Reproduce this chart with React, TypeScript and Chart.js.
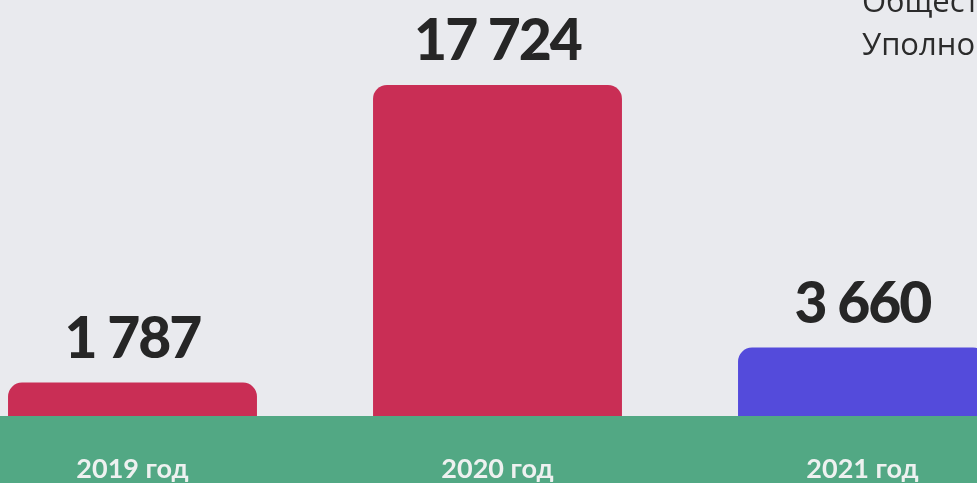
import React, { useEffect, useRef } from "react";
import { Chart, registerables } from "chart.js";

Chart.register(...registerables);

const categories = ["2019 год", "2020 год", "2021 год"];
const values = [1787, 17724, 3660];
const barColors = ["#c92e55", "#c92e55", "#544bdb"];
const legendLines = ["Общественные организации", "Уполномоченный по правам человека"];

const fmt = (v: number) => v.toLocaleString("ru-RU").replace(/\s/g, " ");

const overlayPlugin = {
  id: "overlay",
  beforeDraw(chart: any) {
    const { ctx, width, height } = chart;
    ctx.save();
    ctx.fillStyle = "#e9eaee";
    ctx.fillRect(0, 0, width, height);
    ctx.restore();
  },
  afterDraw(chart: any) {
    const { ctx, chartArea, width, height } = chart;
    const meta = chart.getDatasetMeta(0);
    ctx.save();
    // green band
    ctx.fillStyle = "#52a884";
    ctx.fillRect(0, chartArea.bottom, width, height - chartArea.bottom);
    // category labels
    ctx.fillStyle = "#eef1f0";
    ctx.font = "bold 27px Lato";
    ctx.textAlign = "center";
    ctx.textBaseline = "alphabetic";
    meta.data.forEach((bar: any, i: number) => {
      ctx.fillText(chart.data.labels[i], bar.x, 478);
    });
    // value labels
    ctx.fillStyle = "#262626";
    ctx.font = "900 57px Lato";
    (ctx as any).letterSpacing = "-2px";
    meta.data.forEach((bar: any, i: number) => {
      ctx.fillText(fmt(chart.data.datasets[0].data[i]), bar.x, bar.y - 25);
    });
    (ctx as any).letterSpacing = "0px";
    // legend text
    ctx.fillStyle = "#2b2b2b";
    ctx.font = "31px 'Open Sans'";
    ctx.textAlign = "left";
    ctx.fillText(legendLines[0], 912, 12);
    ctx.fillText(legendLines[1], 912, 55);
    ctx.restore();
  },
};

export default function App() {
  const ref = useRef<HTMLCanvasElement>(null);
  useEffect(() => {
    document.body.style.margin = "0";
    document.body.style.overflow = "hidden";
    const chart = new Chart(ref.current!, {
      type: "bar",
      data: {
        labels: categories,
        datasets: [
          {
            data: values,
            backgroundColor: barColors,
            borderRadius: { topLeft: 14, topRight: 14, bottomLeft: 0, bottomRight: 0 },
            borderSkipped: false,
            barPercentage: 0.682,
            categoryPercentage: 1,
          },
        ],
      },
      options: {
        animation: false,
        responsive: false,
        layout: { padding: { top: 5, bottom: 67, left: 0, right: 0 } },
        plugins: { legend: { display: false }, tooltip: { enabled: false } },
        scales: {
          x: { display: false },
          y: { display: false, min: 0, max: 22000 },
        },
      },
      plugins: [overlayPlugin],
    });
    return () => chart.destroy();
  }, []);
  return (
    <div style={{ position: "absolute", left: -50, top: 0, width: 1095, height: 483, overflow: "hidden" }}>
      <canvas ref={ref} width={1095} height={483} />
    </div>
  );
}
